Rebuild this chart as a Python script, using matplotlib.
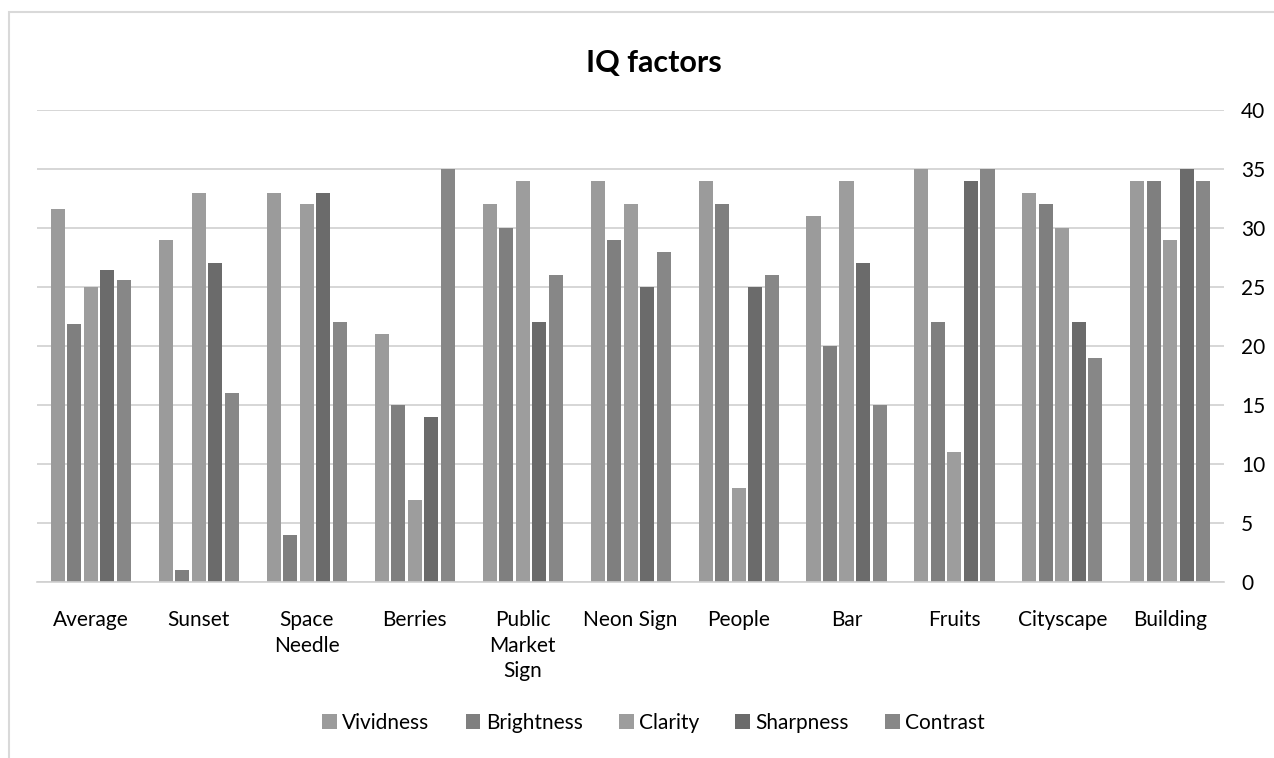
import matplotlib

matplotlib.use("Agg")
import matplotlib.pyplot as plt
from matplotlib.patches import Rectangle
import numpy as np

plt.rcParams["font.family"] = ["Lato", "DejaVu Sans"]

categories = ["Average", "Sunset", "Space\nNeedle", "Berries", "Public\nMarket\nSign",
              "Neon Sign", "People", "Bar", "Fruits", "Cityscape", "Building"]
series_names = ["Vividness", "Brightness", "Clarity", "Sharpness", "Contrast"]
vividness = [31.6, 29, 33, 21, 32, 34, 34, 31, 35, 33, 34]
brightness = [21.9, 1, 4, 15, 30, 29, 32, 20, 22, 32, 34]
clarity = [25.0, 33, 32, 7, 34, 32, 8, 34, 11, 30, 29]
sharpness = [26.4, 27, 33, 14, 22, 25, 25, 27, 34, 22, 35]
contrast = [25.6, 16, 22, 35, 26, 28, 26, 15, 35, 19, 34]
y_ticks = [0, 5, 10, 15, 20, 25, 30, 35, 40]

colors = ["#9B9B9B", "#7F7F7F", "#9D9D9D", "#6B6B6B", "#878787"]
values = [vividness, brightness, clarity, sharpness, contrast]

fig = plt.figure(figsize=(12.74, 7.58), dpi=100)
fig.patch.set_facecolor("#FFFFFF")
ax = fig.add_axes([0.029, 0.232, 0.932, 0.623])

x = np.arange(len(categories))
pitch = 0.153
width = 0.13
for i, (name, vals, col) in enumerate(zip(series_names, values, colors)):
    ax.bar(x + (i - 2) * pitch, vals, width=width, color=col, label=name, zorder=2)

ax.set_xlim(-0.5, len(categories) - 0.5)
ax.set_ylim(0, 40)
ax.set_yticks(y_ticks)
ax.yaxis.tick_right()
ax.tick_params(axis="y", length=0, pad=12, labelsize=15, colors="#000000")
ax.set_xticks(x)
ax.set_xticklabels(categories, fontsize=15, linespacing=1.35, va="top")
ax.tick_params(axis="x", length=0, pad=20)
ax.grid(axis="y", color="#D0D0D0", lw=1.2, zorder=0)
for s in ["top", "left", "right"]:
    ax.spines[s].set_visible(False)
ax.spines["bottom"].set_color("#D0D0D0")
ax.spines["bottom"].set_linewidth(1.2)

fig.text(0.513, 1 - 63 / 758, "IQ factors", ha="center", va="center", fontsize=22, fontweight="bold")

ax.legend(loc="center", bbox_to_anchor=(0.513, 1 - 723 / 758), bbox_transform=fig.transFigure,
          ncol=5, frameon=False, fontsize=15, handlelength=0.7, handleheight=0.7,
          handletextpad=0.25, columnspacing=1.75)

fig.patches.append(Rectangle((9 / 1274, -0.05), 1.0, 1 - 12 / 758 + 0.05,
                             transform=fig.transFigure, fill=False,
                             edgecolor="#D9D9D9", lw=1.5))

plt.savefig("out.png", dpi=100)
plt.close()
